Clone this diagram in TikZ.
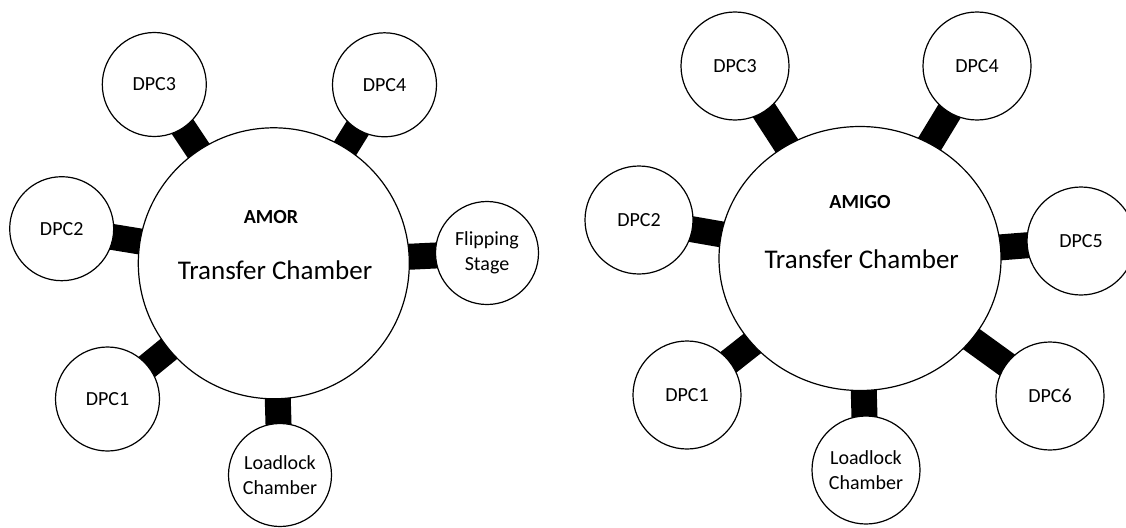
\documentclass[tikz,border=0pt]{standalone}
\usepackage{fontspec}
\setmainfont{Carlito}
\usetikzlibrary{shapes.geometric,backgrounds}
\begin{document}
\begin{tikzpicture}[x=1pt,y=-1pt,
  sat/.style={circle,draw,line width=1.2pt,fill=white,inner sep=0pt,minimum size=104pt,align=center,font=\fontsize{20}{25}\selectfont},
  satR/.style={sat,minimum size=108pt},
  hub/.style={circle,draw,line width=1.2pt,fill=white,inner sep=0pt},
  bar/.style={line width=26pt,black},
  title/.style={font=\bfseries\fontsize{20}{24}\selectfont,inner sep=0pt},
  tc/.style={font=\fontsize{27}{32}\selectfont,inner sep=0pt}]
\useasboundingbox (0,0) rectangle (1126,527);
% ---------- AMOR ----------
\node[hub,minimum size=271pt] (L) at (273.8,263.3) {};
\node[title] (Lt) at (271,216.7) {AMOR};
\node[tc] (Lc) at (275,270) {Transfer Chamber};
\node[sat] (l3) at (154.3,84.5) {DPC3};
\node[sat] (l4) at (384.5,84.8) {DPC4};
\node[sat] (l2) at (61.7,228.7) {DPC2};
\node[sat,minimum size=103pt] (lf) at (487,253) {Flipping\\Stage};
\node[sat] (l1) at (107.5,399) {DPC1};
\node[sat,minimum size=103pt] (ll) at (280,475) {Loadlock\\Chamber};
% ---------- AMIGO ----------
\node[ellipse,draw,line width=1.2pt,fill=white,inner sep=0pt,minimum width=282pt,minimum height=264pt] (R) at (860,258.5) {};
\node[title] (Rt) at (860,202.3) {AMIGO};
\node[tc] (Rc) at (861.7,259.3) {Transfer Chamber};
\node[satR] (r3) at (735,66) {DPC3};
\node[satR] (r4) at (977,66) {DPC4};
\node[satR] (r2) at (639,220) {DPC2};
\node[satR] (r5) at (1081,241) {DPC5};
\node[satR] (r6) at (1050,396) {DPC6};
\node[satR] (r1) at (687,395) {DPC1};
\node[satR] (rl) at (866,470) {Loadlock\\Chamber};
\begin{pgfonlayer}{background}
\fill[white] (0,0) rectangle (1126,527);
\foreach \s in {l1,l2,l3,l4,lf,ll} \draw[bar] (L.center) -- (\s.center);
\foreach \s in {r1,r2,r3,r4,r5,r6,rl} \draw[bar] (R.center) -- (\s.center);
\end{pgfonlayer}
\end{tikzpicture}
\end{document}
